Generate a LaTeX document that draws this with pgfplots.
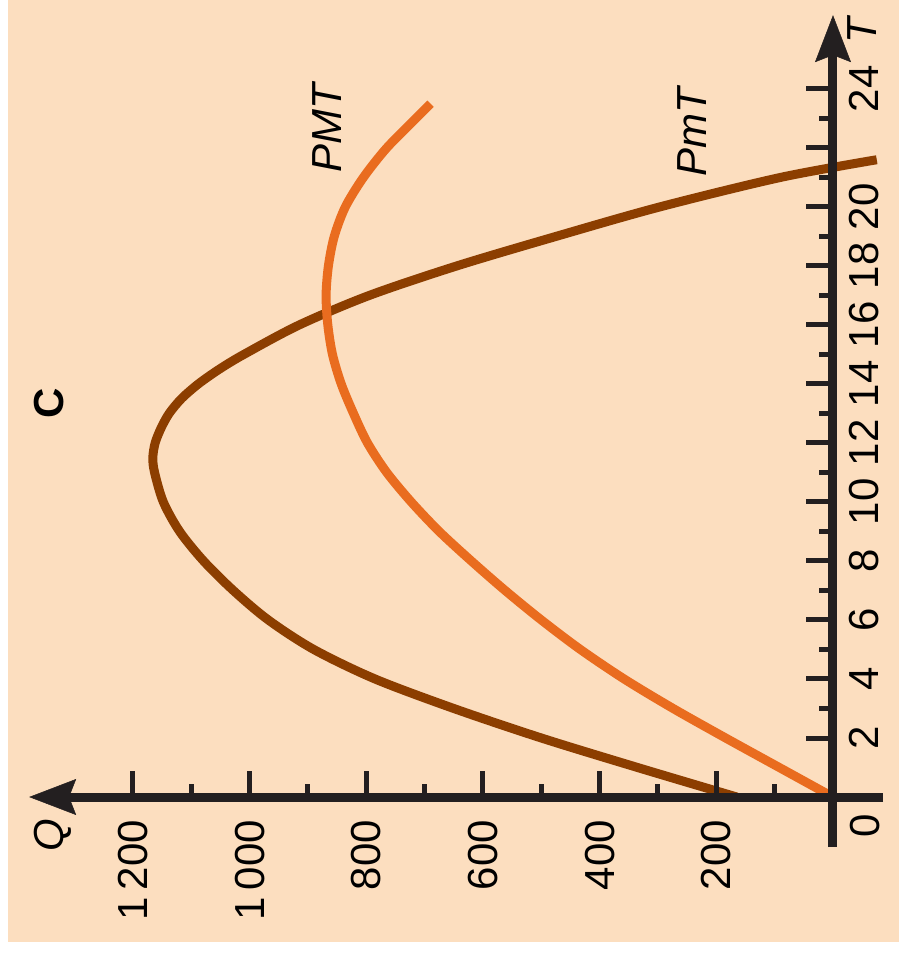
\documentclass[border=0pt]{standalone}
\usepackage{pgfplots}
\pgfplotsset{compat=1.18}
\usepackage{fontspec}
\setmainfont{Liberation Sans}
\usetikzlibrary{arrows.meta}
\definecolor{bgpeach}{RGB}{252,222,191}
\definecolor{pmtbrown}{RGB}{140,62,0}
\definecolor{pMTorange}{RGB}{233,108,31}
\definecolor{axisblack}{RGB}{35,31,32}
\newcommand{\lblfont}{\fontsize{42}{50}\selectfont}

\begin{document}
\begin{tikzpicture}[x=1pt,y=1pt]
\path[use as bounding box] (0,0) rectangle (899,-953);
\fill[white] (0,0) rectangle (899,-953);
\fill[bgpeach] (8,0) rectangle (899,-942);
\begin{axis}[
  at={(833pt,-797pt)}, anchor=origin,
  scale only axis, width=854pt, height=832pt,
  x dir=reverse,
  xmin=-86, xmax=1378, ymin=-1.7, ymax=26.5,
  axis lines=middle,
  axis on top,
  clip=false,
  axis line style={line width=9pt, color=axisblack,
    -{Stealth[length=47pt, width=36pt, inset=7pt, line width=0.5pt]}},
  tick align=inside,
  major tick length=26.5pt,
  minor tick length=13.5pt,
  every tick/.style={line width=5pt, color=axisblack},
  xtick={200,400,600,800,1000,1200},
  xticklabels={200,400,600,800,1\,000,1\,200},
  minor xtick={100,300,500,700,900,1100},
  ytick={2,4,...,24},
  yticklabels={2,4,6,8,10,12,14,16,18,20,,24},
  minor ytick={3,5,...,23},
  xticklabel style={rotate=90, anchor=east, inner sep=0pt, font=\lblfont},
  yticklabel style={rotate=90, anchor=north, inner sep=0pt, font=\lblfont},
  xticklabel shift=23pt,
  yticklabel shift=-16pt,
]
% P_mT : mean product per unit of labour
\addplot[pmtbrown, line width=9pt, smooth] coordinates {
  (165,0) (335,1) (500,2) (650,3) (785,4) (890,5) (968,6)
  (1028,7) (1079,8) (1120,9) (1148,10) (1163,11) (1166,11.5)
  (1162,12) (1152,12.5) (1138,13) (1117,13.5) (1088,14) (1052,14.5)
  (1010,15) (915,16) (795,17)
  (645,18) (475,19) (297,20) (90,21) (-75,21.6)
};
% P_MT : marginal product of labour
\addplot[pMTorange, line width=9pt, smooth] coordinates {
  (0,0) (92,1) (184,2) (274,3) (358,4) (433,5) (500,6) (562,7)
  (620,8) (675,9) (723,10) (765,11) (798,12) (822,13) (843,14)
  (858,15) (866,16) (869,17) (865,18) (855,19) (836,20) (805,21)
  (765,22) (715,23) (690,23.5)
};
\end{axis}
\node[rotate=90, inner sep=0pt, font=\lblfont\itshape] at (327,-128) {PMT};
\node[rotate=90, inner sep=0pt, font=\lblfont\itshape] at (692,-132) {PmT};
\node[rotate=90, inner sep=0pt, font=\lblfont\bfseries] at (49,-403) {C};
\node[rotate=90, inner sep=0pt, font=\lblfont\itshape] at (53,-835) {Q};
\node[rotate=90, inner sep=0pt, font=\lblfont\itshape] at (862,-31) {T};
\node[rotate=90, inner sep=0pt, font=\lblfont] at (865,-826) {0};
\end{tikzpicture}
\end{document}
